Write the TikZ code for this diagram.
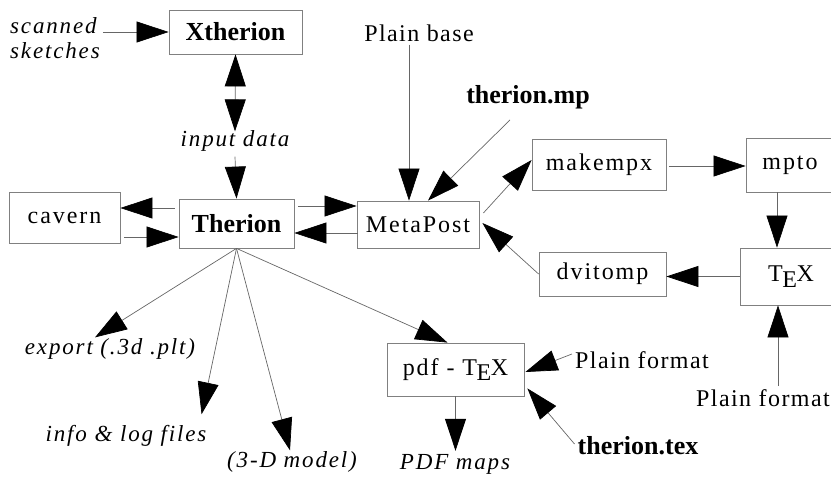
\documentclass[tikz,border=0pt]{standalone}
\usepackage{fontspec}
\setmainfont{Liberation Serif}
\newfontfamily\widefont[LetterSpace=8]{Liberation Serif}
\newfontfamily\labelfont[LetterSpace=6]{Liberation Serif}
\usepackage{tikz}
\usetikzlibrary{positioning,arrows.meta}

\newcommand{\TEXlogo}{T\kern-0.02em\lower0.5ex\hbox{E}\kern-0.02em X}

\begin{document}
\begin{tikzpicture}[x=1pt,y=-1pt,
  box/.style = {draw=black!50, line width=0.8pt, inner sep=0pt, font=\fontsize{24}{28}\selectfont\widefont},
  bbox/.style = {box, font=\fontsize{26}{30}\selectfont\bfseries},
  itl/.style = {inner sep=3pt, font=\fontsize{23}{25}\selectfont\widefont\itshape},
  txt/.style = {inner sep=3pt, font=\fontsize{24}{28}\selectfont\labelfont},
  btxt/.style = {inner sep=3pt, font=\fontsize{26}{30}\selectfont\bfseries},
  arr/.style = {draw=black!60, line width=0.7pt, -{Triangle[length=32pt,width=21pt,black]}},
  darr/.style = {arr, {Triangle[length=32pt,width=21pt,black]}-{Triangle[length=32pt,width=21pt,black]}}]
\useasboundingbox (0,0) rectangle (831,477);

% boxes
\node[bbox, minimum width=133pt, minimum height=44pt] (xth) at (235.5,32) {Xtherion};
\node[bbox, minimum width=115pt, minimum height=49pt] (ther) at (236.5,223.5) {Therion};
\node[box, minimum width=111pt, minimum height=51pt] (cav) at (64.5,217.5) {cavern};
\node[box, minimum width=122pt, minimum height=47pt] (mp) at (418,224.5) {MetaPost};
\node[box, minimum width=134pt, minimum height=51pt] (mkx) at (599,164.5) {makempx};
\node[box, minimum width=88pt, minimum height=54pt] (mpto) at (790,165) {mpto};
\node[box, minimum width=102pt, minimum height=57pt] (tex) at (791,276.5) {\TEXlogo};
\node[box, minimum width=127pt, minimum height=44pt] (dvi) at (602.5,274) {dvitomp};
\node[box, minimum width=137pt, minimum height=53pt] (pdf) at (455.5,369.5) {pdf - \TEXlogo};

% labels
\node[itl, align=left, anchor=west] (scan) at (7,38) {scanned\\sketches};
\node[itl, inner sep=0pt] (inp) at (235,141) {input data};
\node[txt] (plb) at (419,33) {Plain base};
\node[btxt] (tmp) at (528,97) {therion.mp};
\node[txt] (plr) at (763,398) {Plain format};
\node[txt] (plm) at (642,360) {Plain format};
\node[btxt] (thx) at (638,446) {therion.tex};
\node[itl] (pdm) at (455,464) {PDF maps};
\node[itl] (exp) at (110,349) {export (.3d .plt)};
\node[itl] (inf) at (126,436) {info \& log files};
\node[itl] (mod) at (292,462) {(3-D model)};

% connectors
\draw[arr] (scan.east |- xth.west) -- (xth.west);
\draw[darr] (xth.south) -- ([yshift=-1pt]inp.north);
\draw[arr] ([yshift=-5pt]inp.south) -- (ther.north);
\draw[arr] ([xshift=-4pt,yshift=15.5pt]ther.west) -- ([yshift=9.5pt]cav.east);
\draw[arr] ([xshift=4pt,yshift=-19.5pt]cav.east) -- ([yshift=-13.5pt]ther.west);
\draw[arr] ([xshift=4pt,yshift=17.5pt]ther.east) -- ([yshift=18.5pt]mp.west);
\draw[arr] ([xshift=1pt,yshift=-8.5pt]mp.west) -- ([yshift=-9.5pt]ther.east);
\draw[arr] ([xshift=-10pt]plb.south) -- ([xshift=-10pt]plb.south |- mp.north);
\draw[arr] ([xshift=-18pt,yshift=-8pt]tmp.south) -- ([xshift=10pt]mp.north);
\draw[arr] ([xshift=4pt,yshift=11.5pt]mp.east) -- ([yshift=4.5pt]mkx.west);
\draw[arr] ([xshift=3pt,yshift=-1.5pt]mkx.east) -- ([yshift=-1.5pt]mkx.east -| mpto.west);
\draw[arr] ([xshift=-13pt]mpto.south) -- ([xshift=-13pt]mpto.south |- tex.north);
\draw[arr] (tex.west) -- (tex.west -| dvi.east);
\draw[arr] (dvi.west) -- ([xshift=3pt,yshift=1.5pt]mp.east);
\draw[arr] ([xshift=15pt]plr.north) -- ([xshift=-13pt]tex.south);
\draw[arr] (ther.south) -- ([xshift=-8pt]pdf.north);
\draw[arr] ([yshift=6pt]plm.west) -- ([xshift=1pt,yshift=-2.5pt]pdf.east);
\draw[arr] ([yshift=2pt]thx.west) -- ([xshift=3pt,yshift=8pt]pdf.south east);
\draw[arr] (pdf.south) -- (pdf.south |- pdm.north);
\draw[arr] (ther.south) -- ([xshift=-15pt,yshift=-2pt]exp.north);
\draw[arr] (ther.south) -- ([xshift=-8pt,yshift=8pt]inf.north east);
\draw[arr] (ther.south) -- ([xshift=-2pt,yshift=-2pt]mod.north);
\end{tikzpicture}
\end{document}
